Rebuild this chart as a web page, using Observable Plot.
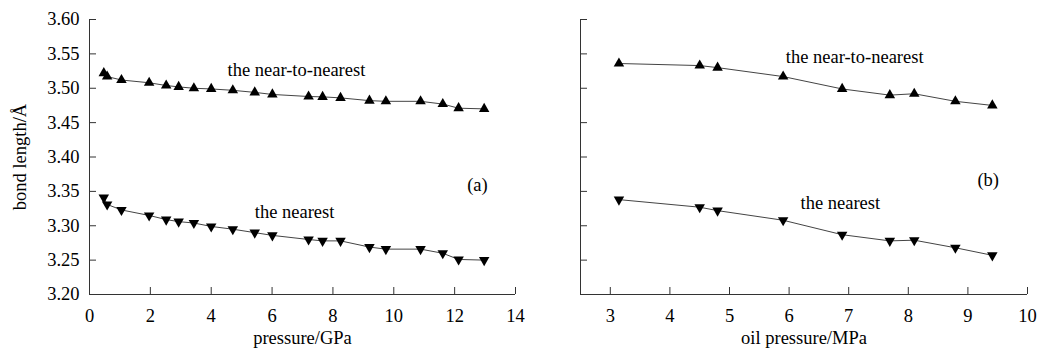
<!DOCTYPE html>
<html>
<head>
<meta charset="utf-8">
<script src="https://cdn.jsdelivr.net/npm/d3@7"></script>
<script src="https://cdn.jsdelivr.net/npm/@observablehq/plot@0.6"></script>
<style>
  html, body { margin: 0; padding: 0; background: white; }
  #wrap { display: flex; flex-direction: row; width: 1041px; height: 354px; }
</style>
</head>
<body>
<div id="wrap"></div>
<script>
// ---- data ----
const pressureGPa = [0.47, 0.58, 1.05, 1.96, 2.52, 2.93, 3.43, 4.0, 4.71, 5.43, 6.01, 7.2, 7.66, 8.25, 9.2, 9.74, 10.88, 11.61, 12.13, 12.97];
const nearToNearestA = [3.522, 3.517, 3.512, 3.508, 3.504, 3.502, 3.500, 3.499, 3.497, 3.494, 3.491, 3.488, 3.4875, 3.486, 3.482, 3.481, 3.481, 3.477, 3.471, 3.470];
const nearestA = [3.341, 3.331, 3.323, 3.315, 3.309, 3.306, 3.304, 3.299, 3.295, 3.290, 3.286, 3.280, 3.278, 3.278, 3.269, 3.266, 3.266, 3.260, 3.251, 3.250];

const oilPressureMPa = [3.145, 4.50, 4.80, 5.90, 6.89, 7.69, 8.10, 8.79, 9.41];
const nearToNearestB = [3.536, 3.533, 3.530, 3.517, 3.499, 3.490, 3.492, 3.481, 3.475];
const nearestB = [3.338, 3.327, 3.322, 3.308, 3.287, 3.278, 3.279, 3.268, 3.257];

const yTicks = [3.20, 3.25, 3.30, 3.35, 3.40, 3.45, 3.50, 3.55, 3.60];
const xTicksA = [0, 2, 4, 6, 8, 10, 12, 14];
const xTicksB = [3, 4, 5, 6, 7, 8, 9, 10];

const labelsA = [
  {text: "the near-to-nearest", x: 6.8, y: 3.527},
  {text: "the nearest", x: 6.74, y: 3.3195},
  {text: "(a)", x: 12.75, y: 3.359}
];
const labelsB = [
  {text: "the near-to-nearest", x: 7.1, y: 3.545},
  {text: "the nearest", x: 6.86, y: 3.333},
  {text: "(b)", x: 9.34, y: 3.367}
];

// downward triangle symbol
const triangleDown = {
  draw(context, size) {
    const sqrt3 = Math.sqrt(3);
    const y = -Math.sqrt(size / (sqrt3 * 3));
    context.moveTo(0, -y * 2);
    context.lineTo(-sqrt3 * y, y);
    context.lineTo(sqrt3 * y, y);
    context.closePath();
  }
};

const FONT = "Liberation Serif, Times New Roman, serif";
const FS = 18.5;
const AXIS = "#333";

function panel({width, marginLeft, marginRight, xDomain, xTicks, xs, far, near, labels, xLabel, yLabels}) {
  const farData = xs.map((x, i) => ({x, y: far[i]}));
  const nearData = xs.map((x, i) => ({x, y: near[i]}));
  const marks = [
    Plot.ruleX([xDomain[0]], {stroke: AXIS, strokeWidth: 1}),
    Plot.ruleY([yTicks[0]], {stroke: AXIS, strokeWidth: 1}),
    Plot.axisY({ticks: yTicks, tickSize: -7, fill: "none", stroke: AXIS, label: null}),
    Plot.axisX({ticks: xTicks, tickSize: -7, fill: "none", stroke: AXIS, label: null}),
    Plot.axisX({ticks: xTicks, tickSize: 0, tickPadding: 14, tickFormat: d => String(d), fill: "black", label: null, fontSize: FS}),
    Plot.line(farData, {x: "x", y: "y", stroke: "#444", strokeWidth: 1}),
    Plot.line(nearData, {x: "x", y: "y", stroke: "#444", strokeWidth: 1}),
    Plot.dot(farData, {x: "x", y: "y", symbol: "triangle", r: 3.9, fill: "black", stroke: "none"}),
    Plot.dot(nearData, {x: "x", y: "y", symbol: triangleDown, r: 3.9, fill: "black", stroke: "none"}),
    Plot.text(labels, {x: "x", y: "y", text: "text", fill: "black", fontSize: FS, textAnchor: "middle", lineAnchor: "middle"}),
    Plot.text([xLabel], {frameAnchor: "bottom", dy: 49, lineAnchor: "bottom", fill: "black", fontSize: FS})
  ];
  if (yLabels) {
    marks.push(Plot.axisY({ticks: yTicks, tickSize: 0, tickPadding: 10, tickFormat: d3.format(".2f"), fill: "black", label: null, fontSize: FS}));
    marks.push(Plot.text(["bond length/Å"], {frameAnchor: "left", dx: -69, rotate: -90, textAnchor: "middle", lineAnchor: "middle", fill: "black", fontSize: FS}));
  }
  return Plot.plot({
    width,
    height: 354,
    marginLeft,
    marginRight,
    marginTop: 19,
    marginBottom: 60,
    x: {domain: xDomain},
    y: {domain: [yTicks[0], yTicks[yTicks.length - 1]]},
    style: {fontFamily: FONT, fontSize: FS + "px", background: "white", color: "black", overflow: "visible"},
    marks
  });
}

const wrap = document.getElementById("wrap");
wrap.appendChild(panel({
  width: 540, marginLeft: 89, marginRight: 25, xDomain: [0, 14], xTicks: xTicksA,
  xs: pressureGPa, far: nearToNearestA, near: nearestA, labels: labelsA,
  xLabel: "pressure/GPa", yLabels: true
}));
wrap.appendChild(panel({
  width: 501, marginLeft: 40, marginRight: 14, xDomain: [2.5, 10], xTicks: xTicksB,
  xs: oilPressureMPa, far: nearToNearestB, near: nearestB, labels: labelsB,
  xLabel: "oil pressure/MPa", yLabels: false
}));
</script>
</body>
</html>
